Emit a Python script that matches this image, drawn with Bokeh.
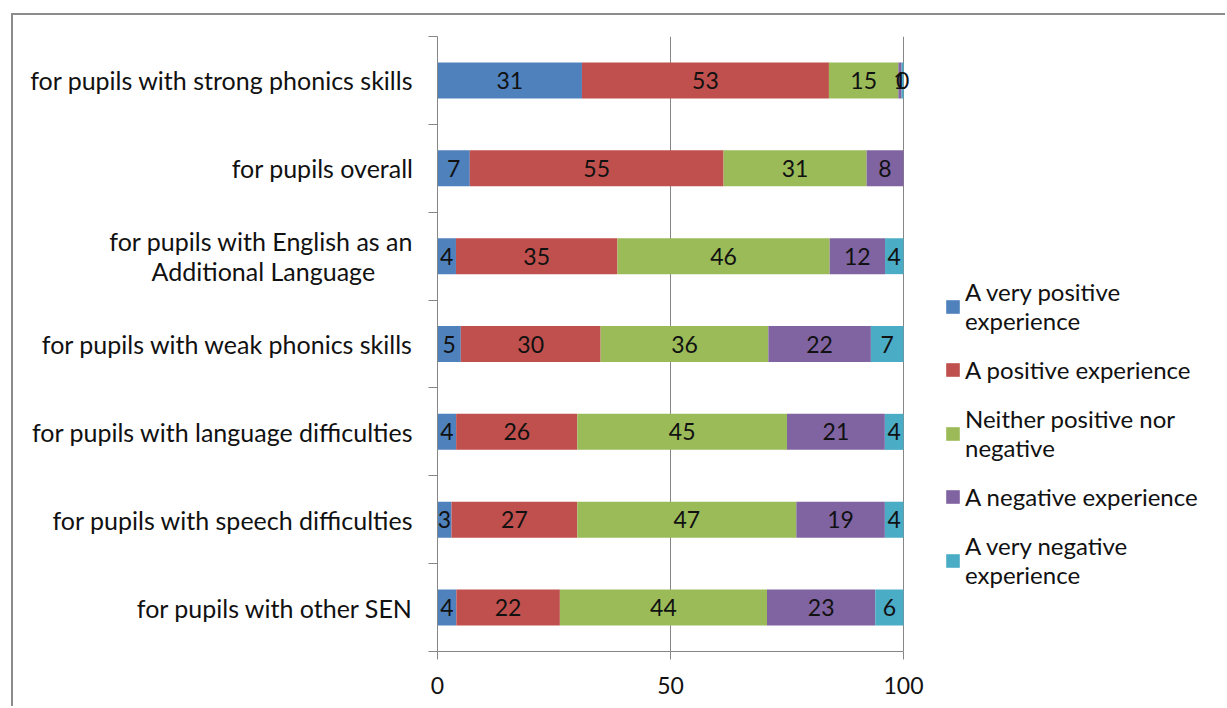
from bokeh.plotting import figure
from bokeh.models import (ColumnDataSource, FixedTicker, Range1d, Legend, LegendItem)
from bokeh.core.properties import value
from bokeh.embed import file_html
from bokeh.resources import INLINE

# ---------------- data ----------------
NB = "\u00a0"
categories = [
    "for pupils with strong phonics skills",
    "for pupils overall",
    "for pupils with English as an\nAdditional Language" + NB * 6,
    "for pupils with weak phonics skills",
    "for pupils with language difficulties",
    "for pupils with speech difficulties",
    "for pupils with other SEN",
]
series = [
    "A very positive\nexperience",
    "A positive experience",
    "Neither positive nor\nnegative",
    "A negative experience",
    "A very negative\nexperience",
]
very_positive = [31.0, 7, 4, 5, 4, 3, 4]
positive = [53.0, 55, 35, 30, 26, 27, 22]
neither = [14.9, 31, 46, 36, 45, 47, 44]
negative = [0.7, 8, 12, 22, 21, 19, 23]
very_negative = [0.4, 0, 4, 7, 4, 4, 6]
x_ticks = [0, 50, 100]

colors = ["#4F81BD", "#C0504D", "#9BBB59", "#8064A2", "#4BACC6"]
FONT = "Lato"
TXT = "#111111"
AX = "#868686"

values = [very_positive, positive, neither, negative, very_negative]
n = len(categories)
ypos = [n - 0.5 - i for i in range(n)]
totals = [sum(v[i] for v in values) for i in range(n)]

W, H = 1214, 693
BL = 424            # left border of frame (px)
PLOT_PX = 466       # pixels spanned by 0..100
x_end = 100 * (W - BL) / PLOT_PX   # frame extends to the right edge to host the legend

p = figure(width=W, height=H, output_backend="svg", toolbar_location=None,
           x_range=Range1d(0, x_end), y_range=Range1d(0, n),
           min_border_left=BL, min_border_right=0, min_border_top=21,
           min_border_bottom=57)
p.outline_line_color = None
p.background_fill_color = "white"
p.border_fill_color = "white"
p.margin = (13, 0, 0, 11)
p.styles = {"border-top": "2px solid #8c8c8c", "border-left": "2px solid #8c8c8c"}

left = [0.0] * n
items = []
lab_x, lab_y, lab_t = [], [], []
for s, vals, col in zip(series, values, colors):
    w = [vals[i] / totals[i] * 100 for i in range(n)]
    right = [left[i] + w[i] for i in range(n)]
    src = ColumnDataSource(dict(y=ypos, left=left, right=right))
    r = p.hbar(y="y", left="left", right="right", height=0.41, source=src,
               fill_color=col, line_color=None)
    items.append(LegendItem(label=s, renderers=[r]))
    for i in range(n):
        if vals[i] > 0:
            lab_x.append((left[i] + right[i]) / 2)
            lab_y.append(ypos[i])
            lab_t.append(str(int(round(vals[i]))))
    left = right

lsrc = ColumnDataSource(dict(x=lab_x, y=lab_y, t=lab_t))
p.text(x="x", y="y", text="t", source=lsrc, text_align="center",
       text_baseline="middle", text_font=value(FONT), text_font_size="23px",
       text_color=TXT)

# grid
p.ygrid.visible = False
p.xgrid.ticker = FixedTicker(ticks=[50, 100])
p.xgrid.grid_line_color = AX
p.xgrid.grid_line_width = 1

# x axis
xa = p.xaxis[0]
xa.ticker = FixedTicker(ticks=x_ticks)
xa.bounds = (0, 100)
xa.axis_line_color = AX
xa.major_tick_line_color = AX
xa.major_tick_out = 8
xa.major_tick_in = 0
xa.minor_tick_line_color = None
xa.major_label_standoff = 17
xa.major_label_text_font = FONT
xa.major_label_text_font_size = "23px"
xa.major_label_text_color = TXT

# y axis
ya = p.yaxis[0]
ya.ticker = FixedTicker(ticks=ypos, minor_ticks=list(range(n + 1)))
ya.major_label_overrides = {float(y): c for y, c in zip(ypos, categories)}
ya.axis_line_color = AX
ya.major_tick_line_color = None
ya.major_tick_out = 0
ya.major_tick_in = 0
ya.minor_tick_line_color = AX
ya.minor_tick_out = 9
ya.minor_tick_in = 0
ya.major_label_standoff = 15
ya.major_label_text_font = FONT
ya.major_label_text_font_size = "25px"
ya.major_label_text_color = TXT
ya.major_label_text_line_height = 1.0

legend = Legend(items=items, location=(507, 62), orientation="vertical",
                glyph_width=17, glyph_height=17, label_standoff=4, spacing=20,
                padding=0, margin=0, border_line_color=None,
                background_fill_alpha=0, label_text_font=FONT,
                label_text_font_size="24px", label_text_color=TXT,
                label_text_line_height=1.35)
p.add_layout(legend, "center")

open("out.html", "w").write(file_html(p, INLINE))
